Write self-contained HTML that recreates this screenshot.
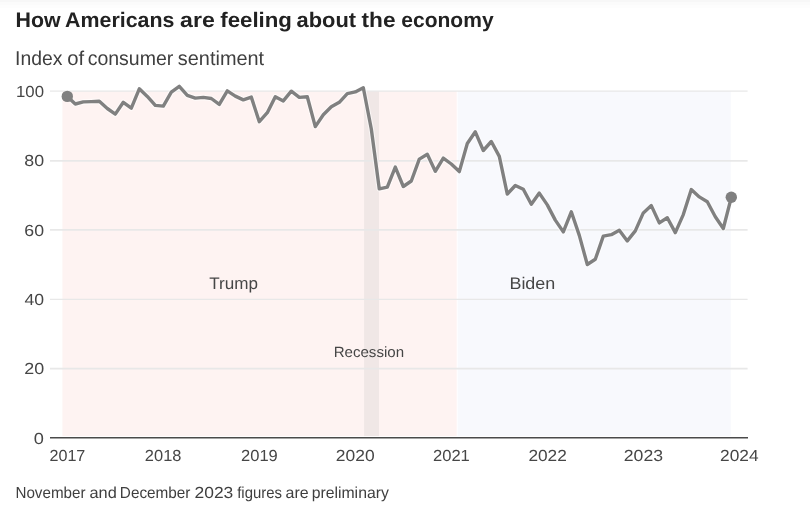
<!DOCTYPE html>
<html lang="en"><head><meta charset="utf-8"><title>How Americans are feeling about the economy</title>
<style>
html,body{margin:0;padding:0;background:#fff;}
body{width:810px;height:515px;overflow:hidden;position:relative;font-family:"Liberation Sans",sans-serif;}
.top{position:absolute;left:0;top:0;width:810px;height:9px;background:linear-gradient(#f7f7f7 0,#f7f7f7 1.5px,#fbfbfb 2.5px,#fbfbfb 4.5px,#fdfdfd 5.5px,#fdfdfd 7.5px,#ffffff 8.5px);}
svg{position:absolute;left:0;top:0;will-change:transform;}
svg text{font-family:"Liberation Sans",sans-serif;font-size:16px;fill:#464646;text-rendering:geometricPrecision;}
</style></head><body>
<div class="top"></div>
<svg width="810" height="515" viewBox="0 0 810 515">
<rect x="62.4" y="91.2" width="394.3" height="344.9" fill="#fef3f2"/>
<rect x="457.7" y="91.2" width="273.1" height="344.9" fill="#f8f9fd"/>
<rect x="364.1" y="91.2" width="14.9" height="344.9" fill="#f0e7e6"/>
<line x1="50" x2="747.6" y1="368.7" y2="368.7" stroke="#e8e8e8" stroke-width="1.7"/><line x1="50" x2="747.6" y1="299.3" y2="299.3" stroke="#e8e8e8" stroke-width="1.3"/><line x1="50" x2="747.6" y1="229.9" y2="229.9" stroke="#e8e8e8" stroke-width="1.7"/><line x1="50" x2="747.6" y1="160.9" y2="160.9" stroke="#e8e8e8" stroke-width="1.7"/><line x1="50" x2="747.6" y1="91.1" y2="91.1" stroke="#e8e8e8" stroke-width="1.3"/>
<line x1="50" x2="748" y1="437.8" y2="437.8" stroke="#4a4a4a" stroke-width="1.5"/>
<polyline points="67.3,96.4 75.3,104.0 83.3,101.9 91.3,101.6 99.3,101.3 107.3,108.5 115.3,114.1 123.3,102.3 131.3,108.2 139.3,88.8 147.3,96.4 155.3,105.4 163.3,106.1 171.3,92.2 179.3,86.3 187.3,95.4 195.3,98.1 203.3,97.4 211.3,98.5 219.3,104.4 227.3,90.9 235.3,96.1 243.3,99.9 251.3,97.1 259.3,121.7 267.3,112.7 275.3,96.7 283.3,100.9 291.3,91.2 299.3,97.4 307.3,96.7 315.3,126.6 323.3,114.8 331.3,106.8 339.3,102.3 347.3,93.6 355.3,91.9 363.3,87.7 371.3,129.0 379.3,188.9 387.3,187.2 395.3,167.1 403.3,186.5 411.3,181.0 419.3,159.1 427.3,154.3 435.3,171.3 443.3,158.1 451.3,164.0 459.3,171.6 467.3,143.5 475.3,131.8 483.3,150.5 491.3,141.5 499.3,156.4 507.3,194.1 515.3,185.5 523.3,189.3 531.3,204.2 539.3,193.1 547.3,204.9 555.3,220.1 563.3,231.9 571.3,211.8 579.3,235.4 587.3,264.5 595.3,259.3 603.3,236.1 611.3,234.7 619.3,230.2 627.3,240.9 635.3,230.9 643.3,212.9 651.3,205.6 659.3,222.9 667.3,217.7 675.3,232.6 683.3,214.6 691.3,189.6 699.3,196.9 707.3,201.8 715.3,216.7 723.3,228.5 731.3,197.3" fill="none" stroke="#ffffff" stroke-opacity="0.55" stroke-width="5.6" stroke-linejoin="round" stroke-linecap="round"/>
<polyline points="67.3,96.4 75.3,104.0 83.3,101.9 91.3,101.6 99.3,101.3 107.3,108.5 115.3,114.1 123.3,102.3 131.3,108.2 139.3,88.8 147.3,96.4 155.3,105.4 163.3,106.1 171.3,92.2 179.3,86.3 187.3,95.4 195.3,98.1 203.3,97.4 211.3,98.5 219.3,104.4 227.3,90.9 235.3,96.1 243.3,99.9 251.3,97.1 259.3,121.7 267.3,112.7 275.3,96.7 283.3,100.9 291.3,91.2 299.3,97.4 307.3,96.7 315.3,126.6 323.3,114.8 331.3,106.8 339.3,102.3 347.3,93.6 355.3,91.9 363.3,87.7 371.3,129.0 379.3,188.9 387.3,187.2 395.3,167.1 403.3,186.5 411.3,181.0 419.3,159.1 427.3,154.3 435.3,171.3 443.3,158.1 451.3,164.0 459.3,171.6 467.3,143.5 475.3,131.8 483.3,150.5 491.3,141.5 499.3,156.4 507.3,194.1 515.3,185.5 523.3,189.3 531.3,204.2 539.3,193.1 547.3,204.9 555.3,220.1 563.3,231.9 571.3,211.8 579.3,235.4 587.3,264.5 595.3,259.3 603.3,236.1 611.3,234.7 619.3,230.2 627.3,240.9 635.3,230.9 643.3,212.9 651.3,205.6 659.3,222.9 667.3,217.7 675.3,232.6 683.3,214.6 691.3,189.6 699.3,196.9 707.3,201.8 715.3,216.7 723.3,228.5 731.3,197.3" fill="none" stroke="#808080" stroke-width="3.4" stroke-linejoin="round" stroke-linecap="round"/>
<circle cx="67.3" cy="96.4" r="5.7" fill="#808080"/>
<circle cx="731.3" cy="197.3" r="5.7" fill="#808080"/>
<g><text x="33.89" y="443.6" textLength="10.12" lengthAdjust="spacingAndGlyphs">0</text><text x="24.20" y="374.3" textLength="19.90" lengthAdjust="spacingAndGlyphs">20</text><text x="24.50" y="305.0" textLength="19.59" lengthAdjust="spacingAndGlyphs">40</text><text x="24.30" y="235.6" textLength="19.69" lengthAdjust="spacingAndGlyphs">60</text><text x="24.33" y="166.3" textLength="19.77" lengthAdjust="spacingAndGlyphs">80</text><text x="16.02" y="97.0" textLength="27.93" lengthAdjust="spacingAndGlyphs">100</text></g>
<g><text x="49.49" y="460.5" textLength="35.82" lengthAdjust="spacingAndGlyphs">2017</text><text x="144.87" y="460.5" textLength="36.54" lengthAdjust="spacingAndGlyphs">2018</text><text x="241.07" y="460.5" textLength="36.71" lengthAdjust="spacingAndGlyphs">2019</text><text x="335.82" y="460.5" textLength="38.76" lengthAdjust="spacingAndGlyphs">2020</text><text x="432.97" y="460.5" textLength="36.84" lengthAdjust="spacingAndGlyphs">2021</text><text x="528.43" y="460.5" textLength="38.33" lengthAdjust="spacingAndGlyphs">2022</text><text x="623.81" y="460.5" textLength="39.26" lengthAdjust="spacingAndGlyphs">2023</text><text x="720.13" y="460.5" textLength="38.48" lengthAdjust="spacingAndGlyphs">2024</text></g>
<text y="26.9" style="font-size:21px;font-weight:bold;fill:#222"><tspan x="15.47" textLength="45.09" lengthAdjust="spacingAndGlyphs">How</tspan> <tspan x="65.07" textLength="109.31" lengthAdjust="spacingAndGlyphs">Americans</tspan> <tspan x="180.12" textLength="34.67" lengthAdjust="spacingAndGlyphs">are</tspan> <tspan x="220.22" textLength="71.77" lengthAdjust="spacingAndGlyphs">feeling</tspan> <tspan x="296.56" textLength="59.51" lengthAdjust="spacingAndGlyphs">about</tspan> <tspan x="361.52" textLength="33.95" lengthAdjust="spacingAndGlyphs">the</tspan> <tspan x="401.28" textLength="92.33" lengthAdjust="spacingAndGlyphs">economy</tspan></text>
<text y="64.5" style="font-size:20px;fill:#3f3f3f"><tspan x="15.11" textLength="47.40" lengthAdjust="spacingAndGlyphs">Index</tspan> <tspan x="67.15" textLength="16.92" lengthAdjust="spacingAndGlyphs">of</tspan> <tspan x="87.67" textLength="85.65" lengthAdjust="spacingAndGlyphs">consumer</tspan> <tspan x="177.85" textLength="86.30" lengthAdjust="spacingAndGlyphs">sentiment</tspan></text>
<text x="209.22" y="289.3" textLength="48.70" lengthAdjust="spacingAndGlyphs" style="font-size:16.8px">Trump</text><text x="509.43" y="289.4" textLength="45.84" lengthAdjust="spacingAndGlyphs" style="font-size:16.8px">Biden</text><text x="333.66" y="356.8" textLength="70.42" lengthAdjust="spacingAndGlyphs" style="font-size:14.8px">Recession</text>
<text y="497.8" style="font-size:16px;fill:#3f3f3f"><tspan x="15.45" textLength="70.10" lengthAdjust="spacingAndGlyphs">November</tspan> <tspan x="89.51" textLength="27.25" lengthAdjust="spacingAndGlyphs">and</tspan> <tspan x="119.84" textLength="70.61" lengthAdjust="spacingAndGlyphs">December</tspan> <tspan x="194.52" textLength="38.74" lengthAdjust="spacingAndGlyphs">2023</tspan> <tspan x="237.19" textLength="44.75" lengthAdjust="spacingAndGlyphs">figures</tspan> <tspan x="285.62" textLength="23.09" lengthAdjust="spacingAndGlyphs">are</tspan> <tspan x="311.68" textLength="77.15" lengthAdjust="spacingAndGlyphs">preliminary</tspan></text>
</svg>
</body></html>
